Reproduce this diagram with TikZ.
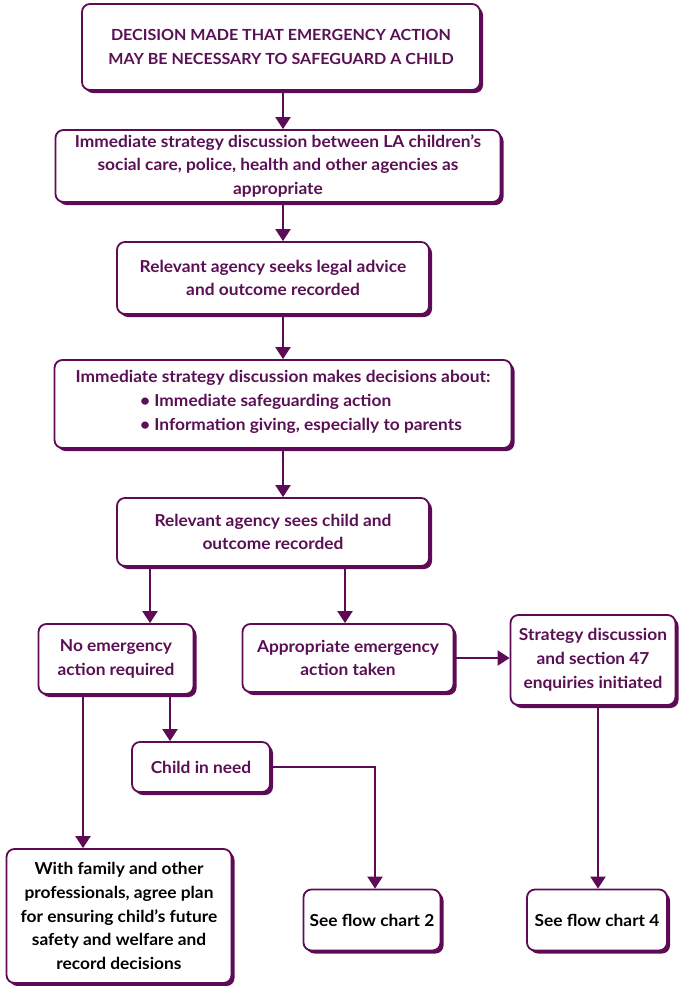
\documentclass[tikz,border=0pt]{standalone}
\usepackage{fontspec}
\setmainfont[FakeStretch=1.05]{Lato}
\usetikzlibrary{arrows.meta,shadows}
\definecolor{purp}{HTML}{5E0B55}
\definecolor{ptext}{HTML}{5A1054}
\begin{document}
\begin{tikzpicture}[x=1pt,y=-1pt,
  box/.style={draw=purp,line width=1.8pt,rounded corners=8pt,fill=white,
    align=center,inner sep=2pt,font=\bfseries\fontsize{16.5}{23.8}\selectfont,text=ptext,
    drop shadow={shadow xshift=3pt,shadow yshift=-3pt,fill=purp,opacity=1}},
  blk/.style={box,text=black},
  arr/.style={draw=purp,line width=2.2pt,-{Triangle[width=15pt,length=12pt]}},
  ln/.style={draw=purp,line width=2.2pt}]
\useasboundingbox (0,0) rectangle (678,986);
\node[box,minimum width=398pt,minimum height=86pt,font=\bfseries\fontsize{15.3}{23.5}\selectfont] (b1) at (281,47) {DECISION MADE THAT EMERGENCY ACTION\\MAY BE NECESSARY TO SAFEGUARD A CHILD};
\node[box,minimum width=445pt,minimum height=72pt] (b2) at (278,166) {Immediate strategy discussion between LA children’s\\social care, police, health and other agencies as\\appropriate};
\node[box,minimum width=312pt,minimum height=72pt] (b3) at (273,278) {Relevant agency seeks legal advice\\and outcome recorded};
\node[box,minimum width=457pt,minimum height=88pt] (b4) at (283,404) {Immediate strategy discussion makes decisions about:\\\hspace*{36pt}\begin{tabular}[t]{@{}l@{}}• Immediate safeguarding action\\• Information giving, especially to parents\end{tabular}};
\node[box,minimum width=312pt,minimum height=68pt] (b5) at (273,532) {Relevant agency sees child and\\outcome recorded};
\node[box,minimum width=155pt,minimum height=70pt] (noem) at (116,659) {No emergency\\action required};
\node[box,minimum width=211pt,minimum height=68pt] (appr) at (348,658) {Appropriate emergency\\action taken};
\node[box,minimum width=165pt,minimum height=90pt] (strat) at (593,660) {Strategy discussion\\and section 47\\enquiries initiated};
\node[box,minimum width=138pt,minimum height=50pt] (cin) at (201,767) {Child in need};
\node[blk,minimum width=225pt,minimum height=134pt] (wf) at (119,916) {With family and other\\professionals, agree plan\\for ensuring child’s future\\safety and welfare and\\record decisions};
\node[blk,minimum width=137pt,minimum height=61pt] (s2) at (372,920) {See flow chart 2};
\node[blk,minimum width=140pt,minimum height=61pt] (s4) at (597,920) {See flow chart 4};
\coordinate (xm) at (283,0);
\coordinate (xa) at (150,0);
\coordinate (xb) at (345,0);
\coordinate (xc) at (170,0);
\coordinate (xd) at (83,0);
\coordinate (xe) at (375,0);
\coordinate (xf) at (598,0);
\draw[arr] (b1.south -| xm) -- (b2.north -| xm);
\draw[arr] (b2.south -| xm) -- (b3.north -| xm);
\draw[arr] (b3.south -| xm) -- (b4.north -| xm);
\draw[arr] (b4.south -| xm) -- (b5.north -| xm);
\draw[arr] (b5.south -| xa) -- (noem.north -| xa);
\draw[arr] (b5.south -| xb) -- (appr.north -| xb);
\draw[arr] (appr.east) -- (strat.west |- appr.east);
\draw[arr] (noem.south -| xc) -- (cin.north -| xc);
\draw[arr] (noem.south -| xd) -- (wf.north -| xd);
\draw[arr] (cin.east) -| (s2.north -| xe);
\draw[arr] (strat.south -| xf) -- (s4.north -| xf);
\end{tikzpicture}
\end{document}
